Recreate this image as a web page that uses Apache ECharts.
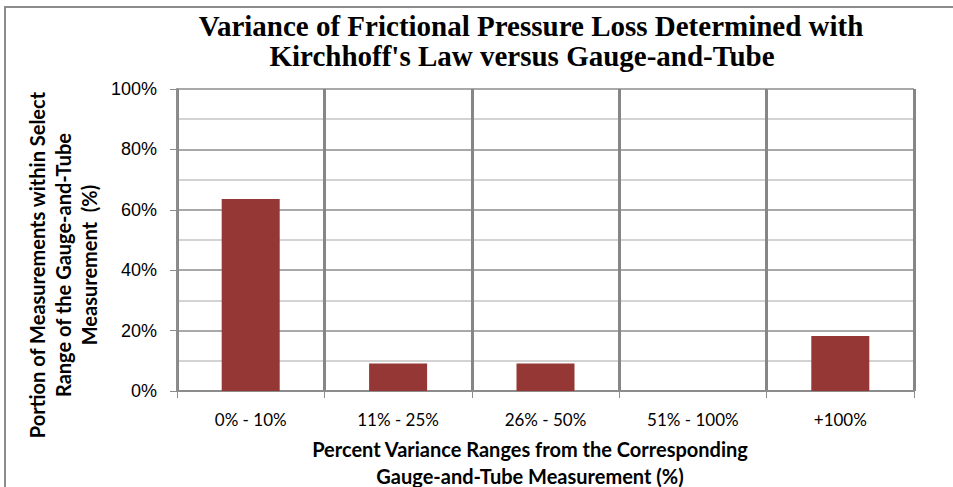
<!DOCTYPE html>
<html>
<head>
<meta charset="utf-8">
<script src="https://cdn.jsdelivr.net/npm/echarts@6/dist/echarts.min.js"></script>
<style>
  html, body { margin: 0; padding: 0; background: #fff; }
  #chart { width: 953px; height: 487px; }
</style>
</head>
<body>
<div id="chart"></div>
<script>
const categories = ['0% - 10%', '11% - 25%', '26% - 50%', '51% - 100%', '+100%']
const portion = [63.6, 9.1, 9.1, 0, 18.2]
const yTicks = [0, 20, 40, 60, 80, 100]

const chart = echarts.init(document.getElementById('chart'), null, { renderer: 'svg' })

const titleStyle = {
  fontFamily: 'Liberation Serif',
  fontWeight: 'bold',
  fontSize: 29,
  lineHeight: 29,
  color: '#000',
}

chart.setOption({
  animation: false,
  title: [
    {
      text: 'Variance of Frictional Pressure Loss Determined with',
      left: 531,
      top: 11,
      padding: 0,
      textAlign: 'center',
      textStyle: titleStyle,
    },
    {
      text: 'Kirchhoff\'s Law versus Gauge-and-Tube',
      left: 522,
      top: 41,
      padding: 0,
      textAlign: 'center',
      textStyle: titleStyle,
    },
  ],
  graphic: [
    {
      type: 'rect',
      shape: { x: 5, y: 7, width: 960, height: 490 },
      style: { fill: 'none', stroke: '#8c8c8c', lineWidth: 2 },
      silent: true,
    },
    {
      type: 'text',
      x: 63,
      y: 265,
      rotation: Math.PI / 2,
      style: {
        text: 'Portion of Measurements within Select\nRange of the Gauge-and-Tube\nMeasurement  (%)',
        fontFamily: 'Lato',
        fontWeight: 'bold',
        fontSize: 20,
        lineHeight: 26,
        align: 'center',
        verticalAlign: 'middle',
        fill: '#000',
      },
    },
    {
      type: 'text',
      x: 530,
      y: 462,
      style: {
        text: 'Percent Variance Ranges from the Corresponding\nGauge-and-Tube Measurement (%)',
        fontFamily: 'Lato',
        fontWeight: 'bold',
        fontSize: 20,
        lineHeight: 27,
        align: 'center',
        verticalAlign: 'middle',
        fill: '#000',
      },
    },
  ],
  grid: {
    left: 177,
    right: 39,
    top: 89,
    bottom: 96,
  },
  xAxis: {
    type: 'category',
    data: categories,
    boundaryGap: true,
    axisLine: { lineStyle: { color: '#8c8c8c', width: 2 } },
    axisTick: { show: true, length: 7, lineStyle: { color: '#8c8c8c', width: 1 } },
    axisLabel: {
      fontFamily: 'Lato',
      fontSize: 17,
      color: '#000',
      margin: 20,
    },
    splitLine: { show: true, lineStyle: { color: '#868686', width: 3 } },
  },
  yAxis: {
    type: 'value',
    min: 0,
    max: 100,
    interval: 20,
    axisLine: { show: true, lineStyle: { color: '#8c8c8c', width: 2 } },
    axisTick: { show: true, length: 7, lineStyle: { color: '#8c8c8c', width: 1 } },
    axisLabel: {
      fontFamily: 'Liberation Sans',
      fontSize: 18,
      color: '#000',
      margin: 20,
      formatter: (v) => yTicks.includes(v) ? v + '%' : '',
    },
    splitLine: { show: true, lineStyle: { color: '#8c8c8c', width: 1.5 } },
    minorTick: { show: false, splitNumber: 2 },
    minorSplitLine: { show: true, lineStyle: { color: '#c4c4c4', width: 1.5 } },
  },
  series: [
    {
      type: 'bar',
      data: portion,
      barWidth: 58,
      itemStyle: { color: '#953735' },
    },
  ],
})
</script>
</body>
</html>
